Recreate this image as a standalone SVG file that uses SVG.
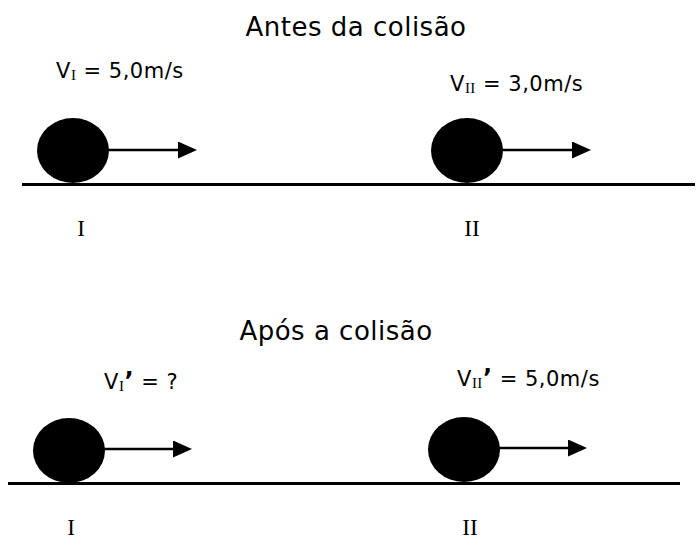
<svg xmlns="http://www.w3.org/2000/svg" width="700" height="554" viewBox="0 0 700 554">
<defs>
<marker id="ah" markerWidth="19" markerHeight="17" refX="1" refY="8.5" orient="auto" markerUnits="userSpaceOnUse" viewBox="0 0 19 17">
<path d="M0,0 L19,8.5 L0,17 Z" fill="#000"/>
</marker>
<style>
.t{font-family:"DejaVu Sans",Verdana,sans-serif;fill:#000}
.s{font-family:"Liberation Serif","Times New Roman",serif;fill:#000}
.ball{fill:#000}
.ground{stroke:#000;stroke-width:3}
.arrow{stroke:#000;stroke-width:2.5;fill:none}
</style>
</defs>
<rect width="700" height="554" fill="#fff"/>
<text class="t" x="356" y="36" font-size="26" letter-spacing="0.5" text-anchor="middle">Antes da colisão</text>
<text class="t" x="336" y="340" font-size="26" letter-spacing="0.5" text-anchor="middle">Após a colisão</text>

<g id="ground-top"><line class="ground" x1="22" y1="184.5" x2="695" y2="184.5"/></g>
<g id="ground-bottom"><line class="ground" x1="8" y1="483.5" x2="680" y2="483.5"/></g>

<g id="ball-I-before">
<ellipse class="ball" cx="73" cy="150.5" rx="36" ry="32.5"/>
<text class="t" x="56" y="78" font-size="21" letter-spacing="0.5">V<tspan class="s" font-size="15" dy="2">I</tspan><tspan dy="-2"> = 5,0m/s</tspan></text>
<text class="s" x="81" y="236" font-size="23" text-anchor="middle">I</text>
</g>
<g id="ball-II-before">
<ellipse class="ball" cx="467" cy="150.5" rx="36" ry="32.5"/>
<text class="t" x="450" y="91" font-size="21" letter-spacing="0.5">V<tspan class="s" font-size="15" dy="2">II</tspan><tspan dy="-2"> = 3,0m/s</tspan></text>
<text class="s" x="472" y="236" font-size="23" text-anchor="middle">II</text>
</g>
<g id="ball-I-after">
<ellipse class="ball" cx="69" cy="450.5" rx="36" ry="32.5"/>
<text class="t" x="104" y="389" font-size="21" letter-spacing="0.5">V<tspan class="s" font-size="15" dy="2">I</tspan><tspan dy="-2" font-weight="bold" font-size="24">’</tspan><tspan> = ?</tspan></text>
<text class="s" x="71" y="535" font-size="23" text-anchor="middle">I</text>
</g>
<g id="ball-II-after">
<ellipse class="ball" cx="464" cy="449.5" rx="36" ry="32.5"/>
<text class="t" x="457" y="386" font-size="21" letter-spacing="0.5">V<tspan class="s" font-size="15" dy="2">II</tspan><tspan dy="-2" font-weight="bold" font-size="24">’</tspan><tspan> = 5,0m/s</tspan></text>
<text class="s" x="470" y="535" font-size="23" text-anchor="middle">II</text>
</g>

<g id="connectors">
<line class="arrow" x1="108" y1="150" x2="179" y2="150" marker-end="url(#ah)"/>
<line class="arrow" x1="502" y1="150" x2="573" y2="150" marker-end="url(#ah)"/>
<line class="arrow" x1="104" y1="449" x2="174" y2="449" marker-end="url(#ah)"/>
<line class="arrow" x1="499" y1="448" x2="569" y2="448" marker-end="url(#ah)"/>
</g>
</svg>
